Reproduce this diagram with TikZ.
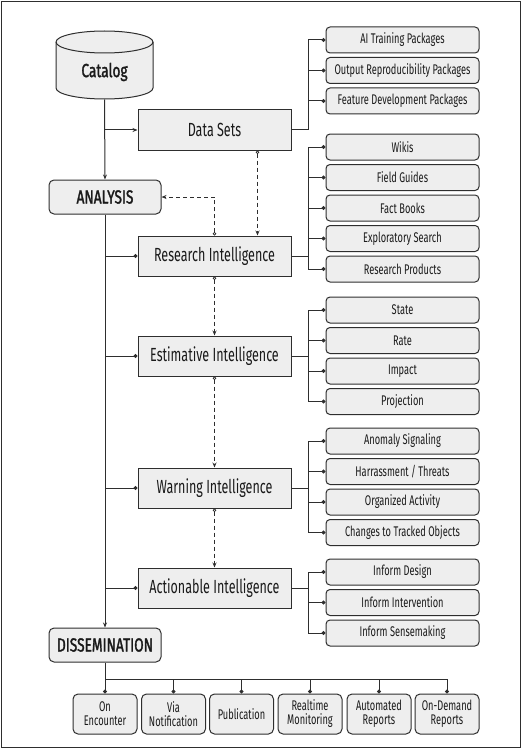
\documentclass[tikz,border=0pt]{standalone}
\usepackage{fontspec}
\setmainfont{Fira Sans}[FakeStretch=0.66]
\newfontfamily\headfont{Fira Sans}[FakeStretch=0.72, FakeBold=1.6]
\usetikzlibrary{arrows.meta,calc}
\definecolor{boxfill}{HTML}{EEEEEE}
\definecolor{edge}{HTML}{2E2E2E}
\definecolor{txt}{HTML}{1A1A1A}
\begin{document}
\begin{tikzpicture}[x=1pt,y=-1pt,
  line width=1pt, draw=edge,
  mainbox/.style={draw=edge, fill=boxfill, minimum width=153pt, minimum height=40pt, inner sep=0pt, text=txt, font=\fontsize{19}{21}\selectfont},
  phase/.style={draw=edge, fill=boxfill, rounded corners=5pt, minimum width=112pt, minimum height=34pt, inner sep=0pt, text=txt, font=\headfont\fontsize{19}{20}\selectfont},
  item/.style={draw=edge, fill=boxfill, rounded corners=4pt, minimum width=153pt, minimum height=26pt, inner sep=0pt, text=txt, font=\fontsize{14}{15}\selectfont},
  outbox/.style={draw=edge, fill=boxfill, rounded corners=5pt, minimum width=64pt, minimum height=40pt, inner sep=0pt, align=center, text=txt, font=\fontsize{14}{14}\selectfont},
  conn/.style={draw=edge, line width=1pt},
  arr/.style={conn, -{Stealth[length=5pt,width=4pt]}},
  dotend/.style={conn, -{Circle[length=4pt]}},
  dashflow/.style={conn, dash pattern=on 4pt off 3pt, {Circle[open,length=3.5pt,line width=0.8pt]}-{Stealth[length=5pt,width=4pt]}},
]
\useasboundingbox (0,0) rectangle (522,749);
\draw[edge, line width=1.2pt] (1.5,1.5) rectangle (520.5,747.5);

% Catalog cylinder
\filldraw[draw=edge, fill=boxfill, line width=1pt]
  (56,42) -- (56,88) arc[start angle=180, end angle=360, x radius=48.5pt, y radius=11pt]
  -- (153,42) arc[start angle=0, end angle=180, x radius=48.5pt, y radius=11pt] -- cycle;
\draw[draw=edge, line width=1pt] (56,42) arc[start angle=180, end angle=360, x radius=48.5pt, y radius=11pt];
\node[minimum width=97pt, minimum height=68pt, inner sep=0pt] (cat) at (104.5,65) {};
\node[text=txt, font=\headfont\fontsize{19}{20}\selectfont] (cattext) at (104.5,72) {Catalog};

% main column
\node[phase] (ana) at (105,197) {ANALYSIS};
\node[phase] (dis) at (105,645) {DISSEMINATION};

\node[mainbox] (ds) at (214.5,130) {Data Sets};
\node[mainbox] (ri) at (214.5,256) {Research Intelligence};
\node[mainbox] (ei) at (214.5,356) {Estimative Intelligence};
\node[mainbox] (wi) at (214.5,488) {Warning Intelligence};
\node[mainbox] (ai) at (214.5,588) {Actionable Intelligence};

% right items
\node[item] (d1) at (402.5,40) {AI Training Packages};
\node[item] (d2) at (402.5,70.5) {Output Reproducibility Packages};
\node[item] (d3) at (402.5,101) {Feature Development Packages};

\node[item] (r1) at (402.5,147) {Wikis};
\node[item] (r2) at (402.5,177.5) {Field Guides};
\node[item] (r3) at (402.5,208) {Fact Books};
\node[item] (r4) at (402.5,238.5) {Exploratory Search};
\node[item] (r5) at (402.5,269) {Research Products};

\node[item] (e1) at (402.5,310) {State};
\node[item] (e2) at (402.5,340.5) {Rate};
\node[item] (e3) at (402.5,371) {Impact};
\node[item] (e4) at (402.5,401.5) {Projection};

\node[item] (w1) at (402.5,441) {Anomaly Signaling};
\node[item] (w2) at (402.5,471.5) {Harrassment / Threats};
\node[item] (w3) at (402.5,502) {Organized Activity};
\node[item] (w4) at (402.5,532.5) {Changes to Tracked Objects};

\node[item] (a1) at (402.5,572) {Inform Design};
\node[item] (a2) at (402.5,602.5) {Inform Intervention};
\node[item] (a3) at (402.5,633) {Inform Sensemaking};

% bottom outputs
\node[outbox] (o1) at (105,714) {On\\Encounter};
\node[outbox] (o2) at (173.5,714) {Via\\Notification};
\node[outbox] (o3) at (241.5,714) {Publication};
\node[outbox] (o4) at (310,714) {Realtime\\Monitoring};
\node[outbox] (o5) at (379,714) {Automated\\Reports};
\node[outbox] (o6) at (447,714) {On-Demand\\Reports};

% main spine
\draw[arr] (cat.south) -- (ana.north);
\draw[arr] (cat.south |- ds.west) -- (ds.west);
\draw[arr] (ana.south) -- (dis.north);
\foreach \b in {ri,ei,wi,ai} \draw[dotend] (ana.south |- \b.west) -- (\b.west);

% dashed flow
\draw[dashflow] ([xshift=43pt]ds.south) -- ([xshift=43pt]ri.north);
\draw[dashflow] (ri.north) |- (ana.east);
\draw[dashflow] (ri.south) -- (ei.north);
\draw[dashflow] (ei.south) -- (wi.north);
\draw[dashflow] (wi.south) -- (ai.north);

% right branches
\foreach \p/\cs in {ds/{d1,d2,d3}, ri/{r1,r2,r3,r4,r5}, ei/{e1,e2,e3,e4}, wi/{w1,w2,w3,w4}, ai/{a1,a2,a3}}{
  \coordinate (bend-\p) at ($(\p.east)+(17,0)$);
  \draw[conn] (\p.east) -- (bend-\p);
  \foreach \c in \cs \draw[dotend] (bend-\p) |- (\c.west);
}

% bottom branches
\coordinate (bus) at ($(dis.south)+(0,17)$);
\draw[conn] (dis.south) -- (bus);
\foreach \o in {o1,o2,o3,o4,o5,o6} \draw[dotend] (bus) -| (\o.north);
\end{tikzpicture}
\end{document}
